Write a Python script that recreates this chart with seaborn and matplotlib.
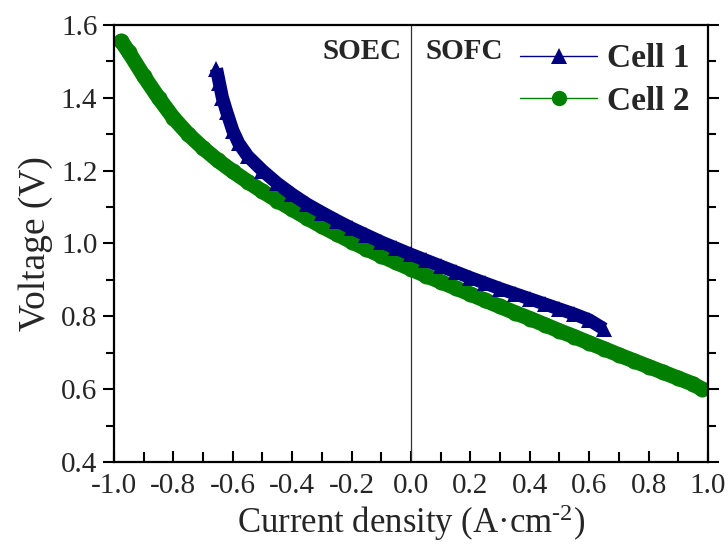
import numpy as np
import pandas as pd
import seaborn as sns
import matplotlib
matplotlib.use("Agg")
import matplotlib.pyplot as plt
from matplotlib.lines import Line2D
from matplotlib.ticker import MultipleLocator, FormatStrFormatter

# ---- data ----
cell1_j = [-0.655, -0.645, -0.635, -0.62, -0.60, -0.58, -0.55, -0.50, -0.45, -0.40,
           -0.35, -0.30, -0.25, -0.20, -0.15, -0.10, -0.05, 0.00, 0.05, 0.10,
           0.15, 0.20, 0.25, 0.30, 0.35, 0.40, 0.45, 0.50, 0.55, 0.60, 0.65]
cell1_v = [1.48, 1.44, 1.40, 1.36, 1.31, 1.275, 1.24, 1.200, 1.165, 1.135,
           1.108, 1.085, 1.063, 1.042, 1.023, 1.004, 0.987, 0.970, 0.954, 0.938,
           0.922, 0.906, 0.891, 0.876, 0.862, 0.848, 0.834, 0.820, 0.806, 0.790, 0.765]

cell2_j = [-0.975, -0.95, -0.90, -0.85, -0.80, -0.75, -0.70, -0.65, -0.60, -0.55,
           -0.50, -0.45, -0.40, -0.35, -0.30, -0.25, -0.20, -0.15, -0.10, -0.05,
           0.00, 0.05, 0.10, 0.15, 0.20, 0.25, 0.30, 0.35, 0.40, 0.45,
           0.50, 0.55, 0.60, 0.65, 0.70, 0.75, 0.80, 0.85, 0.90, 0.95, 0.98]
cell2_v = [1.555, 1.525, 1.46, 1.40, 1.345, 1.300, 1.262, 1.228, 1.198, 1.170,
           1.143, 1.118, 1.094, 1.070, 1.047, 1.026, 1.005, 0.985, 0.966, 0.948,
           0.930, 0.912, 0.895, 0.878, 0.861, 0.844, 0.827, 0.810, 0.794, 0.777,
           0.760, 0.744, 0.727, 0.711, 0.694, 0.678, 0.662, 0.646, 0.630, 0.614, 0.600]

series_names = ["Cell 1", "Cell 2"]
region_labels = ["SOEC", "SOFC"]
x_ticks = [-1.0, -0.8, -0.6, -0.4, -0.2, 0.0, 0.2, 0.4, 0.6, 0.8, 1.0]
y_ticks = [0.4, 0.6, 0.8, 1.0, 1.2, 1.4, 1.6]

navy = "#00007f"
green = "#007f00"

sns.set_theme(style="white")
plt.rcParams["font.family"] = ["Liberation Serif", "DejaVu Serif"]
plt.rcParams["axes.unicode_minus"] = False
plt.rcParams["mathtext.fontset"] = "custom"
plt.rcParams["mathtext.rm"] = "Liberation Serif"
plt.rcParams["mathtext.default"] = "regular"

fig = plt.figure(figsize=(7.28, 5.49), dpi=100)
ax = fig.add_axes([0.1566, 0.1585, 0.8159, 0.796])

df1 = pd.DataFrame({"j": cell1_j, "V": cell1_v})
df2 = pd.DataFrame({"j": cell2_j, "V": cell2_v})

sns.lineplot(data=df2, x="j", y="V", sort=False, estimator=None, color=green,
             lw=11, solid_capstyle="round", marker="o", markersize=11.5,
             markeredgewidth=0, ax=ax, legend=False, zorder=2)
sns.lineplot(data=df1, x="j", y="V", sort=False, estimator=None, color=navy,
             lw=9.5, solid_capstyle="butt", marker="^", markersize=12,
             markeredgewidth=0, ax=ax, legend=False, zorder=3)

ax.axvline(0.0, color="#333333", lw=0.9, zorder=1)

ax.set_xlim(-1.0, 1.0)
ax.set_ylim(0.4, 1.6)
ax.set_xticks(x_ticks)
ax.set_yticks(y_ticks)
ax.xaxis.set_major_formatter(FormatStrFormatter("%.1f"))
ax.yaxis.set_major_formatter(FormatStrFormatter("%.1f"))
ax.xaxis.set_minor_locator(MultipleLocator(0.1))
ax.yaxis.set_minor_locator(MultipleLocator(0.1))

ax.tick_params(axis="x", which="both", direction="in", bottom=True, top=False,
               labelsize=21, width=1.5, color="black", pad=8)
ax.tick_params(axis="x", which="major", length=8)
ax.tick_params(axis="x", which="minor", length=7)
ax.tick_params(axis="y", which="both", direction="out", left=True, right=True,
               labelsize=21, width=1.5, color="black", pad=4)
ax.tick_params(axis="y", which="major", length=8)
ax.tick_params(axis="y", which="minor", length=6)

for sp in ax.spines.values():
    sp.set_visible(True)
    sp.set_color("black")
    sp.set_linewidth(1.6)

ax.set_xlabel("Current density (A·cm$^{\\mathrm{\u2010}2}$)", fontsize=25, labelpad=2)
ax.set_ylabel("Voltage (V)", fontsize=27, labelpad=6)

ax.text(-0.03, 1.527, region_labels[0], ha="right", va="center",
        fontsize=21, fontweight="bold")
ax.text(0.05, 1.527, region_labels[1], ha="left", va="center",
        fontsize=21, fontweight="bold")

handles = [
    Line2D([], [], color=navy, lw=1, marker="^", markersize=12, markeredgewidth=0),
    Line2D([], [], color=green, lw=1, marker="o", markersize=11, markeredgewidth=0),
]
leg = ax.legend(handles, series_names, loc="upper right", frameon=False,
                prop={"weight": "bold", "size": 24}, handlelength=2.3,
                handletextpad=0.3, borderaxespad=0.15, labelspacing=0.35,
                bbox_to_anchor=(1.0, 1.0))

fig.savefig("out.png", dpi=100)
